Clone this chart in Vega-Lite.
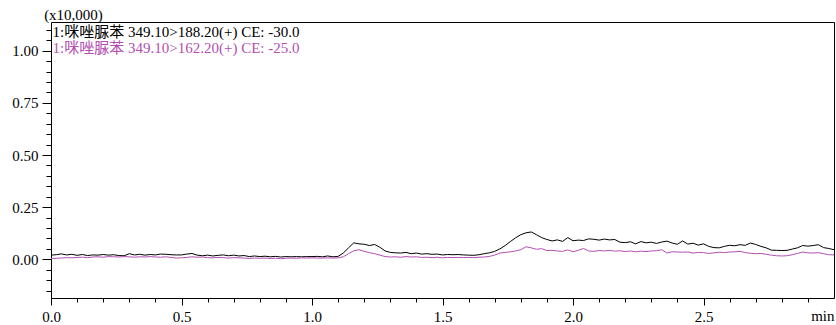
{
  "$schema": "https://vega.github.io/schema/vega-lite/v6.json",
  "width": 783,
  "height": 276,
  "autosize": "none",
  "padding": {"left": 51, "top": 22, "right": 2, "bottom": 27},
  "background": "white",
  "config": {
    "view": {"stroke": "black", "strokeWidth": 1},
    "axis": {
      "labelFont": "Times New Roman, Liberation Serif, DejaVu Serif, serif", "labelFontSize": 15, "labelColor": "black",
      "titleFont": "Times New Roman, Liberation Serif, DejaVu Serif, serif", "titleFontSize": 15, "titleFontWeight": "normal", "titleColor": "black",
      "tickColor": "black", "domainColor": "black", "grid": false, "labelFlush": false
    }
  },
  "datasets": {
    "trace": [
      {"t":0.00,"b":0.020,"m":0.004},{"t":0.02,"b":0.022,"m":0.005},{"t":0.04,"b":0.026,"m":0.006},{"t":0.06,"b":0.021,"m":0.008},{"t":0.08,"b":0.024,"m":0.007},
      {"t":0.10,"b":0.019,"m":0.009},{"t":0.12,"b":0.023,"m":0.010},{"t":0.14,"b":0.018,"m":0.008},{"t":0.16,"b":0.021,"m":0.011},{"t":0.18,"b":0.020,"m":0.012},
      {"t":0.20,"b":0.023,"m":0.010},{"t":0.22,"b":0.020,"m":0.013},{"t":0.24,"b":0.022,"m":0.012},{"t":0.26,"b":0.018,"m":0.011},{"t":0.28,"b":0.017,"m":0.013},
      {"t":0.30,"b":0.027,"m":0.012},{"t":0.32,"b":0.021,"m":0.010},{"t":0.34,"b":0.024,"m":0.012},{"t":0.36,"b":0.020,"m":0.011},{"t":0.38,"b":0.023,"m":0.013},
      {"t":0.40,"b":0.021,"m":0.011},{"t":0.42,"b":0.025,"m":0.010},{"t":0.44,"b":0.024,"m":0.012},{"t":0.46,"b":0.022,"m":0.009},{"t":0.48,"b":0.021,"m":0.006},
      {"t":0.50,"b":0.021,"m":0.007},{"t":0.52,"b":0.025,"m":0.009},{"t":0.54,"b":0.028,"m":0.012},{"t":0.56,"b":0.020,"m":0.010},{"t":0.58,"b":0.017,"m":0.011},
      {"t":0.60,"b":0.020,"m":0.008},{"t":0.62,"b":0.016,"m":0.007},{"t":0.64,"b":0.019,"m":0.009},{"t":0.66,"b":0.021,"m":0.008},{"t":0.68,"b":0.017,"m":0.006},
      {"t":0.70,"b":0.020,"m":0.008},{"t":0.72,"b":0.016,"m":0.007},{"t":0.74,"b":0.018,"m":0.006},{"t":0.76,"b":0.013,"m":0.004},{"t":0.78,"b":0.016,"m":0.006},
      {"t":0.80,"b":0.013,"m":0.005},{"t":0.82,"b":0.015,"m":0.006},{"t":0.84,"b":0.012,"m":0.004},{"t":0.86,"b":0.014,"m":0.005},{"t":0.88,"b":0.011,"m":0.003},
      {"t":0.90,"b":0.013,"m":0.005},{"t":0.92,"b":0.012,"m":0.006},{"t":0.94,"b":0.013,"m":0.005},{"t":0.96,"b":0.012,"m":0.007},{"t":0.98,"b":0.013,"m":0.006},
      {"t":1.00,"b":0.013,"m":0.007},{"t":1.02,"b":0.014,"m":0.006},{"t":1.04,"b":0.012,"m":0.006},{"t":1.06,"b":0.016,"m":0.007},{"t":1.08,"b":0.012,"m":0.006},
      {"t":1.10,"b":0.014,"m":0.007},{"t":1.12,"b":0.030,"m":0.012},{"t":1.14,"b":0.055,"m":0.027},{"t":1.16,"b":0.079,"m":0.041},{"t":1.18,"b":0.074,"m":0.046},
      {"t":1.20,"b":0.072,"m":0.038},{"t":1.22,"b":0.066,"m":0.032},{"t":1.24,"b":0.071,"m":0.027},{"t":1.26,"b":0.058,"m":0.020},{"t":1.28,"b":0.040,"m":0.013},
      {"t":1.30,"b":0.033,"m":0.011},{"t":1.32,"b":0.031,"m":0.012},{"t":1.34,"b":0.030,"m":0.010},{"t":1.36,"b":0.033,"m":0.013},{"t":1.38,"b":0.027,"m":0.011},
      {"t":1.40,"b":0.030,"m":0.012},{"t":1.42,"b":0.025,"m":0.009},{"t":1.44,"b":0.027,"m":0.010},{"t":1.46,"b":0.024,"m":0.008},{"t":1.48,"b":0.025,"m":0.010},
      {"t":1.50,"b":0.021,"m":0.007},{"t":1.52,"b":0.023,"m":0.009},{"t":1.54,"b":0.022,"m":0.008},{"t":1.56,"b":0.023,"m":0.009},{"t":1.58,"b":0.021,"m":0.008},
      {"t":1.60,"b":0.020,"m":0.009},{"t":1.62,"b":0.019,"m":0.008},{"t":1.64,"b":0.022,"m":0.010},{"t":1.66,"b":0.027,"m":0.011},{"t":1.68,"b":0.031,"m":0.014},
      {"t":1.70,"b":0.038,"m":0.020},{"t":1.72,"b":0.050,"m":0.030},{"t":1.74,"b":0.066,"m":0.033},{"t":1.76,"b":0.085,"m":0.036},{"t":1.78,"b":0.103,"m":0.040},
      {"t":1.80,"b":0.118,"m":0.046},{"t":1.82,"b":0.127,"m":0.060},{"t":1.84,"b":0.131,"m":0.055},{"t":1.86,"b":0.118,"m":0.048},{"t":1.88,"b":0.104,"m":0.051},
      {"t":1.90,"b":0.095,"m":0.042},{"t":1.92,"b":0.088,"m":0.043},{"t":1.94,"b":0.093,"m":0.040},{"t":1.96,"b":0.086,"m":0.038},{"t":1.98,"b":0.104,"m":0.045},
      {"t":2.00,"b":0.089,"m":0.036},{"t":2.02,"b":0.092,"m":0.043},{"t":2.04,"b":0.090,"m":0.052},{"t":2.06,"b":0.098,"m":0.040},{"t":2.08,"b":0.096,"m":0.038},
      {"t":2.10,"b":0.092,"m":0.042},{"t":2.12,"b":0.097,"m":0.040},{"t":2.14,"b":0.093,"m":0.043},{"t":2.16,"b":0.095,"m":0.039},{"t":2.18,"b":0.082,"m":0.041},
      {"t":2.20,"b":0.080,"m":0.037},{"t":2.22,"b":0.084,"m":0.040},{"t":2.24,"b":0.074,"m":0.036},{"t":2.26,"b":0.085,"m":0.039},{"t":2.28,"b":0.079,"m":0.037},
      {"t":2.30,"b":0.082,"m":0.040},{"t":2.32,"b":0.076,"m":0.041},{"t":2.34,"b":0.083,"m":0.046},{"t":2.36,"b":0.087,"m":0.030},{"t":2.38,"b":0.078,"m":0.036},
      {"t":2.40,"b":0.072,"m":0.035},{"t":2.42,"b":0.088,"m":0.034},{"t":2.44,"b":0.073,"m":0.035},{"t":2.46,"b":0.077,"m":0.030},{"t":2.48,"b":0.068,"m":0.033},
      {"t":2.50,"b":0.074,"m":0.032},{"t":2.52,"b":0.062,"m":0.028},{"t":2.54,"b":0.056,"m":0.031},{"t":2.56,"b":0.055,"m":0.034},{"t":2.58,"b":0.062,"m":0.032},
      {"t":2.60,"b":0.067,"m":0.035},{"t":2.62,"b":0.065,"m":0.036},{"t":2.64,"b":0.070,"m":0.038},{"t":2.66,"b":0.067,"m":0.032},{"t":2.68,"b":0.078,"m":0.029},
      {"t":2.70,"b":0.071,"m":0.027},{"t":2.72,"b":0.062,"m":0.028},{"t":2.74,"b":0.055,"m":0.024},{"t":2.76,"b":0.044,"m":0.020},{"t":2.78,"b":0.043,"m":0.017},
      {"t":2.80,"b":0.042,"m":0.016},{"t":2.82,"b":0.043,"m":0.017},{"t":2.84,"b":0.049,"m":0.022},{"t":2.86,"b":0.055,"m":0.028},{"t":2.88,"b":0.066,"m":0.035},
      {"t":2.90,"b":0.063,"m":0.031},{"t":2.92,"b":0.066,"m":0.030},{"t":2.94,"b":0.070,"m":0.032},{"t":2.96,"b":0.056,"m":0.027},{"t":2.98,"b":0.052,"m":0.022},
      {"t":3.00,"b":0.046,"m":0.021}
    ],
    "labels": [
      {"t":0.006,"v":1.09,"label":"1:咪唑脲苯 349.10>188.20(+) CE: -30.0","series":"188.20"},
      {"t":0.006,"v":1.013,"label":"1:咪唑脲苯 349.10>162.20(+) CE: -25.0","series":"162.20"}
    ]
  },
  "resolve": {"axis": {"x": "independent", "y": "independent"}},
  "layer": [
    {
      "data": {"name": "trace"},
      "mark": {"type": "line", "color": "black", "strokeWidth": 1, "clip": true},
      "encoding": {
        "x": {"field": "t", "type": "quantitative",
          "scale": {"domain": [0, 3.0], "nice": false, "zero": false},
          "axis": {"orient": "bottom", "values": [0, 0.5, 1.0, 1.5, 2.0, 2.5], "format": ".1f",
            "tickSize": 7, "labelPadding": 4, "domain": false,
            "title": "min", "titleAnchor": "end", "titleAlign": "right", "titleX": 783, "titleY": 22, "titleBaseline": "alphabetic"}},
        "y": {"field": "b", "type": "quantitative",
          "scale": {"domain": [-0.1855, 1.1376], "nice": false, "zero": false},
          "axis": {"orient": "left", "values": [0, 0.25, 0.5, 0.75, 1.0], "format": ".2f",
            "tickSize": 9, "labelPadding": 4, "domain": false,
            "title": "(x10,000)", "titleAngle": 0, "titleAlign": "center", "titleX": 22, "titleY": -3, "titleBaseline": "alphabetic"}}
      }
    },
    {
      "data": {"name": "trace"},
      "mark": {"type": "line", "color": "#b34fb3", "strokeWidth": 1, "clip": true},
      "encoding": {
        "x": {"field": "t", "type": "quantitative",
          "axis": {"orient": "bottom", "values": [0,0.1,0.2,0.3,0.4,0.5,0.6,0.7,0.8,0.9,1.0,1.1,1.2,1.3,1.4,1.5,1.6,1.7,1.8,1.9,2.0,2.1,2.2,2.3,2.4,2.5,2.6,2.7,2.8,2.9],
            "tickSize": 4, "labels": false, "domain": false, "title": null}},
        "y": {"field": "m", "type": "quantitative",
          "axis": {"orient": "left", "values": [-0.15,-0.1,-0.05,0,0.05,0.1,0.15,0.2,0.25,0.3,0.35,0.4,0.45,0.5,0.55,0.6,0.65,0.7,0.75,0.8,0.85,0.9,0.95,1.0,1.05,1.1],
            "tickSize": 5, "labels": false, "domain": false, "title": null}}
      }
    },
    {
      "data": {"name": "labels"},
      "mark": {"type": "text", "align": "left", "baseline": "middle", "font": "Times New Roman, Liberation Serif, Noto Sans CJK SC, serif", "fontSize": 15},
      "encoding": {
        "x": {"field": "t", "type": "quantitative", "axis": null},
        "y": {"field": "v", "type": "quantitative", "axis": null},
        "text": {"field": "label"},
        "color": {"field": "series", "type": "nominal", "scale": {"domain": ["188.20", "162.20"], "range": ["#000000", "#b34fb3"]}, "legend": null}
      }
    }
  ]
}
